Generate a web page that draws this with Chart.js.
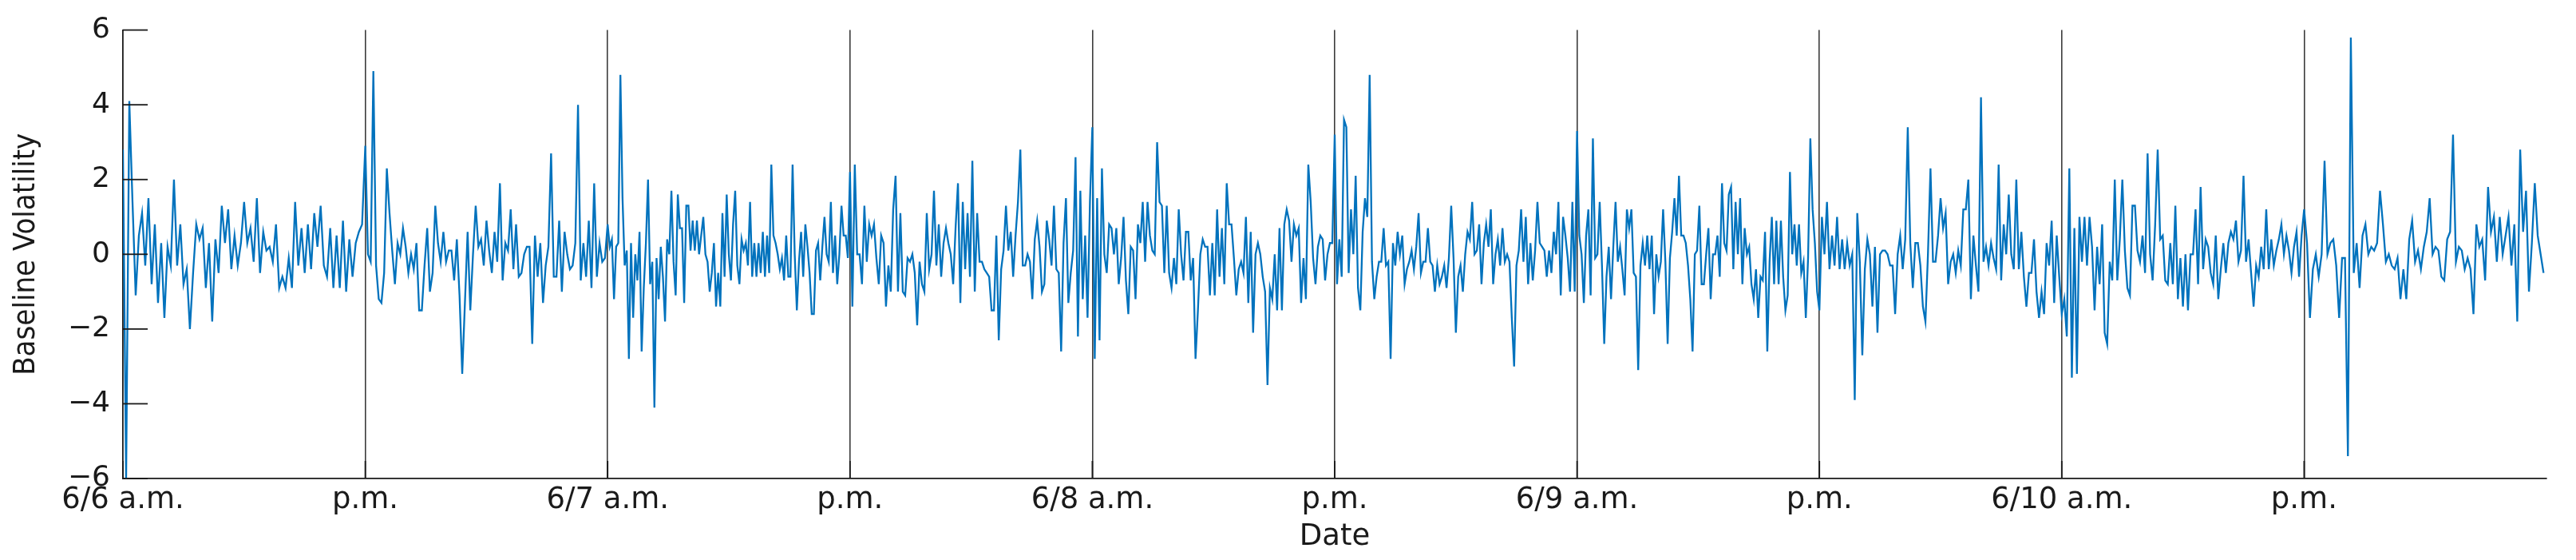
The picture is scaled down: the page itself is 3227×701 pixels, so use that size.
<!DOCTYPE html>
<html>
<head>
<meta charset="utf-8">
<script src="https://cdn.jsdelivr.net/npm/chart.js@4/dist/chart.umd.min.js"></script>
<style>
  html, body { margin: 0; padding: 0; background: #fff; }
  #wrap { width: 3227px; height: 701px; }
</style>
</head>
<body>
<div id="wrap"><canvas id="vol" width="3227" height="701"></canvas></div>
<script>
// half-day tick labels (6/6 a.m. ... 6/11 a.m.)
const tickLabels = ['6/6 a.m.', 'p.m.', '6/7 a.m.', 'p.m.', '6/8 a.m.', 'p.m.', '6/9 a.m.', 'p.m.', '6/10 a.m.', 'p.m.', ''];
const yTicks = [-6, -4, -2, 0, 2, 4, 6];

// baseline volatility, one array per half day
const am6 = [2.8, -6.0, 4.1, 1.4, -1.1, 0.5, 1.1, -0.3, 1.5, -0.8, 0.8, -1.3, 0.3, -1.7, 0.2, -0.3, 2.0, -0.3, 0.8, -0.8, -0.4, -2.0, -0.5, 0.8, 0.4, 0.7, -0.9, 0.3, -1.8, 0.4, -0.5, 1.3, 0.3, 1.2, -0.4, 0.5, -0.3, 0.3, 1.4, 0.3, 0.7, -0.2, 1.5, -0.5, 0.6, 0.1, 0.2, -0.2, 0.8, -0.9, -0.6, -0.9, -0.1, -0.9, 1.4, -0.3, 0.7, -0.5, 0.8, -0.4, 1.1, 0.2, 1.3, -0.3, -0.6, 0.7, -0.9, 0.5, -0.9, 0.9, -1.0, 0.4, -0.6, 0.3, 0.6, 0.8];
const pm6 = [2.9, 0.0, -0.2, 4.9, -0.3, -1.2, -1.3, -0.5, 2.3, 1.1, 0.1, -0.8, 0.3, 0.0, 0.7, 0.2, -0.5, 0.0, -0.4, 0.3, -1.5, -1.5, -0.3, 0.7, -1.0, -0.5, 1.3, 0.3, -0.2, 0.6, -0.2, 0.1, 0.1, -0.7, 0.4, -1.1, -3.2, -1.3, 0.6, -1.5, 0.0, 1.3, 0.2, 0.4, -0.3, 0.9, 0.1, -0.5, 0.6, -0.2, 1.9, -0.7, 0.3, 0.1, 1.2, -0.4, 0.8, -0.6, -0.5, 0.0, 0.2, 0.2, -2.4, 0.5, -0.6, 0.3, -1.3, -0.3, 0.2, 2.7, -0.6, -0.6, 0.9, -1.0, 0.6, 0.0, -0.4, -0.3, 0.3, 4.0, -0.7, 0.3, -0.6, 0.9, -0.9, 1.9, -0.6, 0.3, -0.2, -0.1];
const am7 = [0.8, 0.2, 0.4, -1.2, 0.2, 0.3, 4.8, 1.5, -0.3, 0.1, -2.8, 0.3, -1.7, 0.0, -0.7, 0.6, -2.6, -0.9, 0.3, 2.0, -0.8, -0.2, -4.1, -0.1, -1.2, 0.2, -0.6, -1.8, 0.4, 0.0, 1.7, -0.2, -1.1, 1.6, 0.7, 0.7, -1.3, 1.3, 1.3, 0.1, 0.9, 0.1, 0.9, 0.0, 0.5, 1.0, 0.0, -0.2, -1.0, -0.5, 0.3, -1.4, -0.5, -1.4, 1.1, -0.6, 1.6, 0.0, -0.7, 0.8, 1.7, -0.3, -0.8, 0.4, 0.1, 0.3, -0.3, 1.4, -0.6, 0.3, -0.6, 0.3, -0.5, 0.6, -0.6, 0.5, -0.5, 2.4, 0.5, 0.3, 0.0, -0.4, -0.1, -0.7, 0.5, -0.6, -0.6, 2.4, 0.0, -1.5, -0.2, 0.6, -0.6, 0.8, 0.2, -0.5, -1.6, -1.6, 0.1, 0.3, -0.7, 0.2, 1.0, 0.0, -0.2, 1.4, -0.5, 0.5, -0.8, 0.0, 1.3, 0.5, 0.5, -0.1];
const pm7 = [2.2, -1.4, 2.4, 0.0, 0.0, -0.8, 1.3, -0.2, 0.8, 0.5, 0.8, -0.1, -0.8, 0.5, 0.3, -1.4, -0.3, -1.0, 1.2, 2.1, -1.0, 1.1, -1.0, -1.1, -0.1, -0.2, 0.0, -0.5, -1.9, -0.2, -0.8, -1.0, 1.1, -0.4, 0.0, 1.7, -0.3, 0.8, -0.6, 0.3, 0.7, 0.3, 0.0, -0.8, 0.7, 1.9, -1.3, 1.4, -0.4, 1.1, -0.6, 2.5, -1.0, 1.1, -0.2, -0.2, -0.4, -0.5, -0.6, -1.5, -1.5, 0.5, -2.3, -0.4, 0.1, 1.3, 0.1, 0.6, -0.6, 0.5, 1.4, 2.8, -0.3, -0.3, 0.0, -0.2, -1.2, 0.4, 0.9, 0.2, -1.0, -0.8, 0.9, 0.4, -0.3, 1.3, -0.4, -0.5, -2.6, 0.3, 1.5, -1.3, -0.5, 0.1, 2.6, -2.2, 1.7, -1.2, 0.5, -1.7, 1.4];
const am8 = [3.4, -2.8, 1.5, -2.3, 2.3, 0.0, -0.5, 0.8, 0.7, 0.0, 0.7, -0.8, -0.1, 1.0, -0.7, -1.6, 0.2, 0.1, -1.2, 0.8, 0.3, 1.4, -0.2, 1.4, 0.5, 0.1, 0.0, 3.0, 1.4, 1.3, -0.5, 1.3, -0.5, -0.9, -0.1, -0.8, 1.2, 0.0, -0.7, 0.6, 0.6, -0.7, -0.1, -2.8, -1.5, 0.0, 0.4, 0.2, 0.2, -1.1, 0.3, -1.1, 1.2, -0.6, 0.7, -0.8, 1.9, 0.8, 0.8, -0.1, -1.1, -0.4, -0.2, -0.5, 1.0, -1.3, 0.6, -2.1, 0.0, 0.3, 0.0, -0.6, -1.0, -3.5, -0.9, -1.2, 0.0, -1.5, 0.7, -1.5, 0.8, 1.2, 0.9, -0.2, 0.8, 0.5, 0.7, -1.3, -0.1, -1.2, 2.4, 1.4, -0.1, -0.8, 0.2, 0.5, 0.4, -0.7, 0.0, 0.3, 0.3];
const pm8 = [3.2, -0.8, 0.4, -0.6, 3.6, 3.4, -0.5, 1.2, 0.0, 2.1, -0.9, -1.5, 0.6, 1.5, 1.0, 4.8, -0.2, -1.2, -0.6, -0.2, -0.2, 0.7, -0.3, -0.2, -2.8, 0.3, -0.3, 0.6, 0.0, 0.5, -0.8, -0.4, -0.2, 0.1, -0.4, 0.2, 1.1, -0.5, -0.2, -0.2, 0.7, -0.2, -0.3, -1.0, -0.3, -0.8, -0.6, -0.3, -0.9, -0.1, 1.3, -0.1, -2.1, -0.6, -0.3, -1.0, 0.0, 0.6, 0.4, 1.4, 0.0, 0.1, 0.8, -0.8, 0.3, 0.8, 0.2, 1.2, -0.8, 0.0, 0.4, -0.3, 0.7, -0.2, 0.0, -0.2, -1.7, -3.0, -0.3, 0.1, 1.2, -0.2, 1.0, -0.8, 0.3, -0.7, 0.1, 1.4, 0.3, 0.2, 0.1, -0.6, 0.1, -0.5, 0.6, 0.0, 1.4, -1.1, 1.0, 0.5, -0.1, -1.0, 1.4, -1.0];
const am9 = [3.3, 0.5, 0.0, -1.3, 0.5, 1.2, -1.1, 3.1, -0.1, 0.0, 1.4, -0.3, -2.4, -0.6, 0.2, -1.2, 0.2, 1.4, -0.2, 0.2, -0.4, -1.1, 1.2, 0.7, 1.2, -0.5, -0.6, -3.1, -0.3, 0.3, -0.3, 0.5, -0.4, 0.5, -1.6, 0.0, -0.6, -0.2, 1.2, -0.2, -2.4, -0.1, 0.6, 1.5, 0.5, 2.1, 0.5, 0.5, 0.3, -0.3, -1.2, -2.6, 0.0, 0.1, 1.3, -0.8, -0.8, 0.0, 0.7, -1.2, 0.0, 0.0, 0.5, -0.6, 1.9, 0.3, 0.1, 1.6, 1.8, -0.4, 1.4, 0.0, 1.5, -0.8, 0.7, 0.0, 0.2, -0.8, -1.2, -0.4, -1.7, -0.6, -0.7, 0.6, -2.6, -0.2, 1.0, -0.8, 0.9, -0.8, 0.9, -0.6, -1.5, -1.1, 2.2, 0.0, 0.8, -0.3, 0.8, -0.5, -0.2, -1.7, -0.1, 3.1, 1.2, 0.3, -1.0];
const pm9 = [-1.5, 1.0, 0.0, 1.4, -0.4, 0.5, -0.3, 1.0, -0.4, 0.4, -0.4, 0.3, -0.3, 0.0, -3.9, 1.1, -0.2, -2.7, -0.4, 0.4, 0.0, -1.4, 0.2, -2.1, 0.0, 0.1, 0.1, 0.0, -0.3, -0.3, -1.6, 0.0, 0.5, -0.4, 0.4, 3.4, 0.3, -0.9, 0.3, 0.3, -0.3, -1.4, -1.8, 0.0, 2.3, -0.2, -0.2, 0.5, 1.5, 0.7, 1.1, -0.8, -0.2, 0.0, -0.5, 0.1, -0.3, 1.2, 1.2, 2.0, -1.2, 0.5, -0.3, -1.0, 4.2, -0.2, 0.2, -0.3, 0.3, -0.1, -0.4, 2.4, -0.7, 0.8, 0.0, 1.6, 0.0, -0.4, 2.0, -0.4, 0.6, -0.6, -1.4, -0.5, -0.5, 0.4, -1.0, -1.7, -1.0, -1.6, 0.3, -0.3, 0.9, -1.3, 0.5, -0.6];
const am10 = [-1.6, -1.2, -2.2, 2.3, -3.3, 0.7, -3.2, 1.0, -0.2, 1.0, -0.3, 1.0, 0.2, -1.5, 0.2, -0.8, 0.8, -2.1, -2.4, -0.2, -0.7, 2.0, -0.7, 0.4, 2.0, 0.1, -0.9, -1.1, 1.3, 1.3, 0.1, -0.2, 0.5, -0.5, 2.7, 0.0, -0.7, 0.8, 2.8, 0.4, 0.5, -0.7, -0.8, 0.3, -0.8, 1.3, -1.2, -0.1, -1.4, 0.0, -1.5, 0.0, 0.0, 1.2, -0.8, 1.8, -0.4, 0.4, 0.2, -0.5, -0.8, 0.5, -1.2, -0.4, 0.3, -0.5, 0.3, 0.6, 0.4, 0.9, -0.2, 0.1, 2.1, -0.2, 0.4, -0.5, -1.4, -0.3, -0.6, 0.2, -0.4, 1.2, -0.4, 0.4, -0.3, 0.1, 0.4, 0.8, 0.0, 0.5, 0.1, -0.5, 0.2, 0.6, -0.6, 0.5];
const pm10 = [1.2, 0.3, -1.7, -0.4, 0.0, -0.6, 0.0, 2.5, 0.0, 0.3, 0.4, -0.3, -1.7, -0.1, -0.1, -5.4, 5.8, -0.5, 0.3, -0.9, 0.5, 0.8, 0.0, 0.2, 0.1, 0.3, 1.7, 0.8, -0.2, 0.0, -0.3, -0.4, -0.1, -1.2, -0.4, -1.2, 0.4, 0.9, -0.2, 0.1, -0.4, 0.2, 0.6, 1.5, 0.0, 0.2, 0.1, -0.6, -0.7, 0.4, 0.6, 3.2, -0.2, 0.2, 0.1, -0.4, -0.1, -0.4, -1.6, 0.8, 0.2, 0.4, -0.7, 1.8, 0.6, 1.0, -0.2, 1.0, 0.0, 0.5, 1.0, -0.3, 0.8, -1.8, 2.8, 0.6, 1.7, -1.0, 0.3, 1.9, 0.5, 0.0, -0.5];

const halfDays = [am6, pm6, am7, pm7, am8, pm8, am9, pm9, am10, pm10];

// x is time in half days since 6/6 a.m.
let points = [];
halfDays.forEach(function (seg, k) {
    seg.forEach(function (v, i) {
        points.push({x: k + i / seg.length, y: v});
    });
});

// matlab style ticks drawn inside the axes
const insideTicks = {
    id: 'insideTicks',
    afterDatasetsDraw(chart) {
        let ctx = chart.ctx;
        let area = chart.chartArea;
        let xs = chart.scales.x;
        let ys = chart.scales.y;
        ctx.save();
        ctx.strokeStyle = '#1a1a1a';
        ctx.lineWidth = 1.8;
        ys.ticks.forEach(function (t) {
            let py = ys.getPixelForValue(t.value);
            ctx.beginPath();
            ctx.moveTo(area.left, py);
            ctx.lineTo(area.left + 31, py);
            ctx.stroke();
        });
        xs.ticks.forEach(function (t) {
            if (t.value >= 10) return;
            let px = xs.getPixelForValue(t.value);
            ctx.beginPath();
            ctx.moveTo(px, area.bottom);
            ctx.lineTo(px, area.bottom - 22);
            ctx.stroke();
        });
        ctx.restore();
    }
};

new Chart(document.getElementById('vol'), {
    type: 'line',
    data: {
        datasets: [{
            data: points,
            borderColor: '#0072BD',
            borderWidth: 2.3,
            pointRadius: 0,
            tension: 0,
            fill: false
        }]
    },
    options: {
        responsive: false,
        animation: false,
        devicePixelRatio: 1,
        layout: { padding: { left: 0, right: 37, top: 31, bottom: 0 } },
        plugins: { legend: { display: false }, tooltip: { enabled: false } },
        scales: {
            x: {
                type: 'linear',
                min: 0,
                max: 10,
                afterBuildTicks: function (s) {
                    s.ticks = tickLabels.map(function (l, i) { return {value: i}; });
                },
                afterFit: function (s) { s.height = 102; },
                ticks: {
                    autoSkip: false,
                    maxRotation: 0,
                    padding: 5,
                    color: '#1a1a1a',
                    font: { family: 'DejaVu Sans', size: 37 },
                    callback: function (v) { return tickLabels[Math.round(v)]; }
                },
                grid: {
                    color: function (c) {
                        return (c.tick && c.tick.value > 0 && c.tick.value < 10) ? '#3c3c3c' : 'rgba(0,0,0,0)';
                    },
                    lineWidth: 1.6,
                    drawTicks: false
                },
                border: { display: true, color: '#1a1a1a', width: 1.8 },
                title: {
                    display: true,
                    text: 'Date',
                    color: '#1a1a1a',
                    font: { family: 'DejaVu Sans', size: 37 },
                    padding: { top: 0, bottom: 6 }
                }
            },
            y: {
                min: -6,
                max: 6,
                afterBuildTicks: function (s) {
                    s.ticks = yTicks.map(function (v) { return {value: v}; });
                },
                afterFit: function (s) { s.width = 154; },
                ticks: {
                    padding: 16,
                    color: '#1a1a1a',
                    font: { family: 'DejaVu Sans', size: 36 },
                    callback: function (v) { return v < 0 ? '\u2212' + Math.abs(v) : String(v); }
                },
                grid: { drawOnChartArea: false, drawTicks: false, color: 'rgba(0,0,0,0)' },
                border: { display: true, color: '#1a1a1a', width: 1.8 },
                title: {
                    display: true,
                    text: 'Baseline Volatility',
                    color: '#1a1a1a',
                    font: { family: "'Liberation Sans Narrow', 'DejaVu Sans Condensed', sans-serif", size: 38 },
                    padding: { top: 10, bottom: 0 }
                }
            }
        }
    },
    plugins: [insideTicks]
});
</script>
</body>
</html>
